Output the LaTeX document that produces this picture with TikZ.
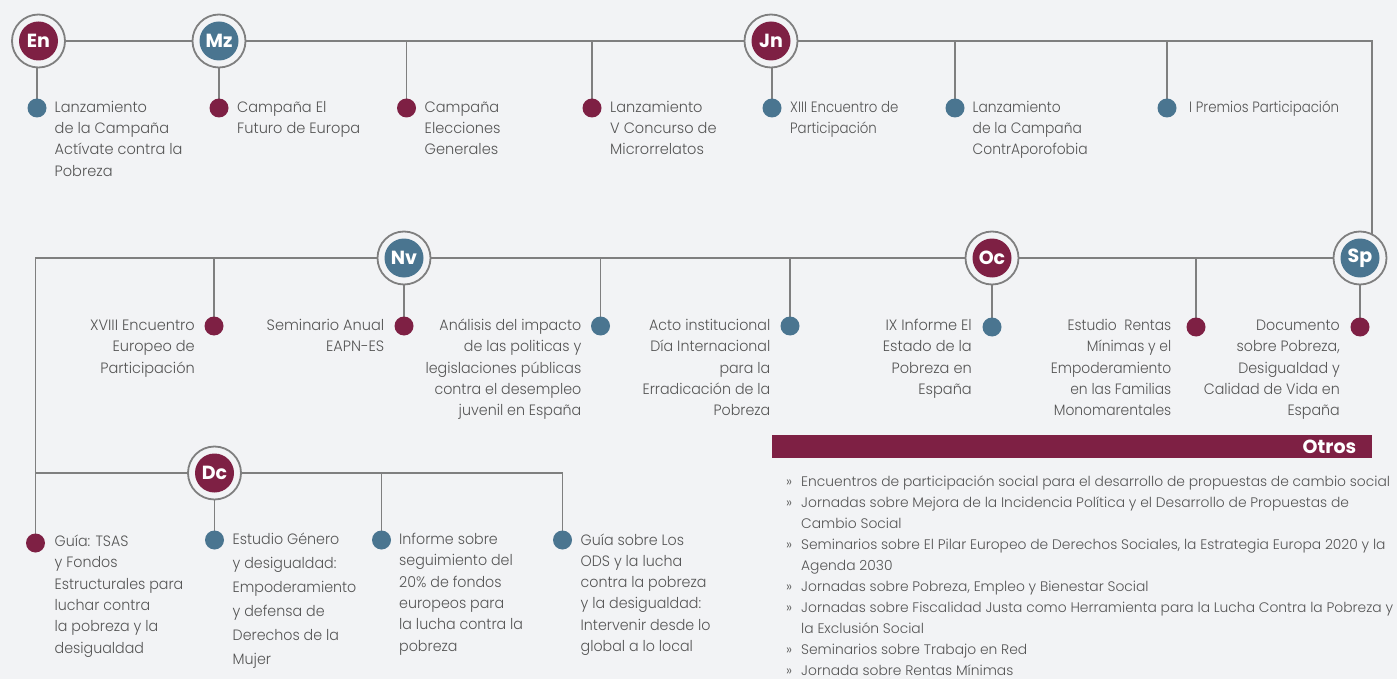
\documentclass[tikz,border=0pt]{standalone}
\usepackage{fontspec}
\setmainfont{Poppins}[UprightFont={* Light}, BoldFont={* Bold}]
\newfontfamily\stretchA{Poppins Light}[FakeStretch=0.97]
\newfontfamily\stretchB{Poppins Light}[FakeStretch=0.95]
\newfontfamily\stretchC{Poppins Light}[FakeStretch=0.925]
\newfontfamily\stretchD{Poppins Light}[FakeStretch=0.89]
\usetikzlibrary{backgrounds}
\definecolor{bgc}{HTML}{F2F3F5}
\definecolor{maroon}{HTML}{7E2044}
\definecolor{steel}{HTML}{4A7590}
\definecolor{lgrey}{HTML}{7F7F7F}
\definecolor{txt}{HTML}{555555}
\newcommand\lblstrut{\rule{0pt}{14pt}}
\begin{document}
\begin{tikzpicture}[x=1pt,y=-1pt,
  month/.style={circle, draw=lgrey, line width=1.8pt, fill=bgc, minimum size=53pt, inner sep=0pt, text=white,
    font=\fontsize{19}{19}\selectfont\bfseries,
    path picture={\fill[#1] (path picture bounding box.center) circle (19.5pt);}},
  dot/.style={circle, fill=#1, minimum size=19pt, inner sep=0pt},
  conn/.style={draw=lgrey, line width=1.5pt},
  lblL/.style={anchor=north west, align=left, inner sep=0pt, text=txt, font=#1\fontsize{15}{21.4}\selectfont},
  lblL/.default=\stretchA,
  lblR/.style={anchor=north east, align=right, inner sep=0pt, text=txt, font=#1\fontsize{15}{21.4}\selectfont},
  lblR/.default=\stretchA,
  lst/.style={anchor=north west, align=left, inner sep=0pt, text=txt, font=\fontsize{13.85}{21}\selectfont},
]
\useasboundingbox (0,0) rectangle (1397,679);
% month circles
\node[month=maroon] (en) at (38.5,41) {En};
\node[month=steel] (mz) at (219,41) {Mz};
\node[month=maroon] (jn) at (771,41) {Jn};
\node[month=steel] (nv) at (404,258) {Nv};
\node[month=maroon] (oc) at (992,258) {Oc};
\node[month=steel] (sp) at (1360,258) {Sp};
\node[month=maroon] (dc) at (214.5,473) {Dc};
% dots
\node[dot=steel] (t1) at (37,108) {};
\node[dot=maroon] (t2) at (219,108) {};
\node[dot=maroon] (t3) at (406.5,108) {};
\node[dot=maroon] (t4) at (592,108) {};
\node[dot=steel] (t5) at (772,108) {};
\node[dot=steel] (t6) at (955,108) {};
\node[dot=steel] (t7) at (1167,108) {};
\node[dot=maroon] (m1) at (214,326) {};
\node[dot=maroon] (m2) at (404,326) {};
\node[dot=steel] (m3) at (600.5,326) {};
\node[dot=steel] (m4) at (790,326) {};
\node[dot=steel] (m5) at (992,327) {};
\node[dot=maroon] (m6) at (1196,327) {};
\node[dot=maroon] (m7) at (1360,327) {};
\node[dot=maroon] (b1) at (35.5,543) {};
\node[dot=steel] (b2) at (214.5,540) {};
\node[dot=steel] (b3) at (381.5,540) {};
\node[dot=steel] (b4) at (562.5,540) {};
\coordinate (c1) at (1372,41);
\coordinate (c2) at (35.5,258);
\coordinate (c4) at (562.5,473);
\begin{pgfonlayer}{background}
\fill[bgc] (0,0) rectangle (1397,679);
\draw[conn] (en.center) -- (c1) -- (c1 |- sp.center);
\draw[conn] (sp.center) -- (c2) -- (b1.center);
\draw[conn] (c2 |- dc.center) -- (c4) -- (b4.center);
\foreach \d in {t1,t2,t3,t4,t5,t6,t7} \draw[conn] (\d.center) -- (\d |- en.center);
\foreach \d in {m1,m2,m3,m4,m5,m6,m7} \draw[conn] (\d.center) -- (\d |- nv.center);
\foreach \d in {b2,b3} \draw[conn] (\d.center) -- (\d |- dc.center);
\end{pgfonlayer}
% top labels
\node[lblL] (l1) at (54.5,98) {\lblstrut Lanzamiento\\de la Campaña\\Actívate contra la\\Pobreza};
\node[lblL] (l2) at (237,98) {\lblstrut Campaña El\\Futuro de Europa};
\node[lblL] (l3) at (424.5,98) {\lblstrut Campaña\\Elecciones\\Generales};
\node[lblL] (l4) at (610,98) {\lblstrut Lanzamiento\\V Concurso de\\Microrrelatos};
\node[lblL=\stretchD] (l5) at (790,98) {\lblstrut XIII Encuentro de\\Participación};
\node[lblL=\stretchC] (l6) at (972.5,98) {\lblstrut Lanzamiento\\de la Campaña\\ContrAporofobia};
\node[lblL=\stretchD] (l7) at (1189,98) {\lblstrut I Premios Participación};
% middle labels
\node[lblR] (r1) at (195,316) {\lblstrut XVIII Encuentro\\Europeo de\\Participación};
\node[lblR] (r2) at (384.5,316) {\lblstrut Seminario Anual\\EAPN-ES};
\node[lblR=\stretchB] (r3) at (581.5,316) {\lblstrut Análisis del impacto\\de las politicas y\\legislaciones públicas\\contra el desempleo\\juvenil en España};
\node[lblR=\stretchB] (r4) at (770.5,316) {\lblstrut Acto institucional\\Día Internacional\\para la\\Erradicación de la\\Pobreza};
\node[lblR] (r5) at (972,316) {\lblstrut IX Informe El\\Estado de la\\Pobreza en\\España};
\node[lblR=\stretchC] (r6) at (1171.5,316) {\lblstrut Estudio\ \ Rentas\\Mínimas y el\\Empoderamiento\\en las Familias\\Monomarentales};
\node[lblR=\stretchB] (r7) at (1340,316) {\lblstrut Documento\\sobre Pobreza,\\Desigualdad y\\Calidad de Vida en\\España};
% bottom labels
\node[lblL=\stretchB] (g1) at (54.5,532) {\lblstrut Guía: TSAS\\y Fondos\\Estructurales para\\luchar contra\\la pobreza y la\\desigualdad};
\node[lblL, font=\stretchB\fontsize{15}{24}\selectfont] (g2) at (232.5,530) {\lblstrut Estudio Género\\y desigualdad:\\Empoderamiento\\y defensa de\\Derechos de la\\Mujer};
\node[lblL=\stretchB] (g3) at (399,530) {\lblstrut Informe sobre\\seguimiento del\\20\% de fondos\\europeos para\\la lucha contra la\\pobreza};
\node[lblL, font=\stretchB\fontsize{15}{21.2}\selectfont] (g4) at (580.5,531) {\lblstrut Guía sobre Los\\ODS y la lucha\\contra la pobreza\\y la desigualdad:\\Intervenir desde lo\\global a lo local};
% otros
\node[fill=maroon, inner sep=0pt, minimum width=600pt, minimum height=23pt, anchor=north west] (bar) at (772,435) {};
\node[anchor=east, inner sep=0pt, text=white, font=\fontsize{19}{19}\selectfont\bfseries] (otros) at ([xshift=-16pt]bar.east) {Otros};
\node[lst] (list) at (786,472.5) {\lblstrut\makebox[15pt][l]{»}Encuentros de participación social para el desarrollo de propuestas de cambio social\\
\makebox[15pt][l]{»}Jornadas sobre Mejora de la Incidencia Política y el Desarrollo de Propuestas de\\
\hspace*{15pt}Cambio Social\\
\makebox[15pt][l]{»}Seminarios sobre El Pilar Europeo de Derechos Sociales, la Estrategia Europa 2020 y la\\
\hspace*{15pt}Agenda 2030\\
\makebox[15pt][l]{»}Jornadas sobre Pobreza, Empleo y Bienestar Social\\
\makebox[15pt][l]{»}Jornadas sobre Fiscalidad Justa como Herramienta para la Lucha Contra la Pobreza y\\
\hspace*{15pt}la Exclusión Social\\
\makebox[15pt][l]{»}Seminarios sobre Trabajo en Red\\
\makebox[15pt][l]{»}Jornada sobre Rentas Mínimas};
\end{tikzpicture}
\end{document}
